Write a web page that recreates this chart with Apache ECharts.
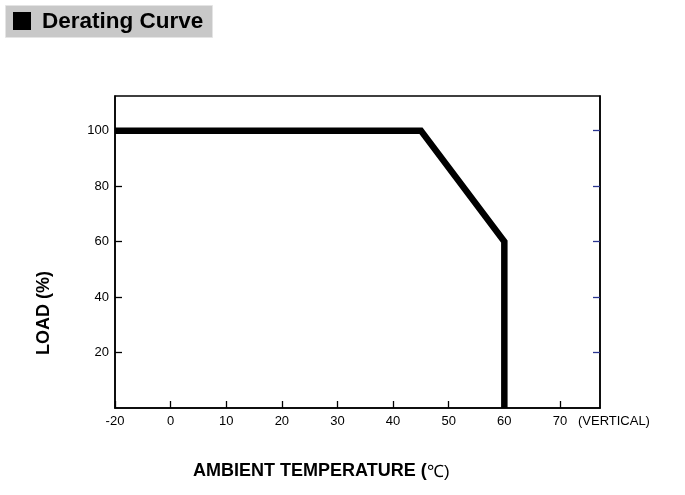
<!DOCTYPE html>
<html><head><meta charset="utf-8">
<script src="https://cdn.jsdelivr.net/npm/echarts@6/dist/echarts.min.js"></script>
<style>html,body{margin:0;padding:0;background:#fff}#c{width:685px;height:495px}</style>
</head><body><div id="c"></div>
<script>
// Data
const tempC = [-20, 45, 60, 60];
const loadPct = [100, 100, 60, 0];
const xTickLabels = ['-20', '0', '10', '20', '30', '40', '50', '60', '70'];
const xTickTemps = [-20, 0, 10, 20, 30, 40, 50, 60, 70];
const yTickValues = [20, 40, 60, 80, 100];

// The reference axis compresses -20..0 into one tick step
function axisPos(t) { return t < 0 ? t / 2 : t; }
const xTickPos = xTickTemps.map(axisPos);

const chart = echarts.init(document.getElementById('c'));
const F = "'Liberation Sans', Arial, sans-serif";
chart.setOption({
  animation: false,
  backgroundColor: '#fff',
  grid: { left: 115, right: 85, top: 96, bottom: 87, show: true, borderColor: '#000', borderWidth: 1.5, backgroundColor: 'transparent' },
  xAxis: {
    type: 'value', min: -10, max: 77.2, interval: 10, position: 'bottom',
    axisLine: { show: true, onZero: false, lineStyle: { color: '#000', width: 1.5 } },
    axisTick: { show: true, inside: true, length: 7, customValues: xTickPos, lineStyle: { color: '#000', width: 1.3 } },
    splitLine: { show: false },
    axisLabel: { margin: 7, color: '#000', fontSize: 13, fontFamily: F, customValues: xTickPos,
      formatter: function (v) { const i = xTickPos.indexOf(v); return i >= 0 ? xTickLabels[i] : ''; } }
  },
  yAxis: [{
    type: 'value', min: 0, max: 112.5, interval: 20, position: 'left', offset: 0,
    axisLine: { show: true, onZero: false, lineStyle: { color: '#000', width: 1.5 } },
    axisTick: { show: true, inside: true, length: 7, customValues: yTickValues, lineStyle: { color: '#000', width: 1.3 } },
    splitLine: { show: false },
    axisLabel: { margin: 6, color: '#000', fontSize: 13, fontFamily: F, customValues: yTickValues,
      formatter: function (v) { return String(v); } }
  }, {
    type: 'value', min: 0, max: 112.5, interval: 20, position: 'right', offset: 0,
    axisLine: { show: true, onZero: false, lineStyle: { color: '#000', width: 1.5 } },
    axisTick: { show: true, inside: true, length: 7, customValues: yTickValues, lineStyle: { color: '#2a3590', width: 1.3 } },
    splitLine: { show: false }, axisLabel: { show: false }
  }],
  series: [{
    type: 'line', yAxisIndex: 0,
    data: tempC.map((t, i) => [axisPos(t), loadPct[i]]),
    showSymbol: false, symbol: 'none',
    lineStyle: { color: '#000', width: 6.5, join: 'miter', cap: 'butt' }
  }]
});

const p70 = chart.convertToPixel({ xAxisIndex: 0 }, 70);
const NF = "'Liberation Sans', Arial, sans-serif";
chart.setOption({
  graphic: [
    { type: 'rect', left: 5, top: 5, shape: { width: 207, height: 32 }, style: { fill: '#c8c8c8', stroke: '#e4e4e4', lineWidth: 1 } },
    { type: 'rect', left: 13, top: 12, shape: { width: 18, height: 18 }, style: { fill: '#000' } },
    { type: 'text', x: 42, y: 22, style: { text: 'Derating Curve', fill: '#000', font: "bold 22.5px " + NF, verticalAlign: 'middle' } },
    { type: 'text', x: p70 + 18, y: 421, style: { text: '(VERTICAL)', fill: '#000', font: "13px " + NF, verticalAlign: 'middle' } },
    { type: 'text', x: 193, y: 471, style: { text: 'AMBIENT TEMPERATURE (', fill: '#000', font: "bold 18px " + NF, verticalAlign: 'middle' } },
    { type: 'text', x: 427, y: 472, style: { text: '℃)', fill: '#000', font: "17px " + NF, verticalAlign: 'middle' } },
    { type: 'text', x: 44, y: 313, rotation: Math.PI / 2, style: { text: 'LOAD (%)', fill: '#000', font: "bold 18px " + NF, align: 'center', verticalAlign: 'middle' } }
  ]
});
</script></body></html>
